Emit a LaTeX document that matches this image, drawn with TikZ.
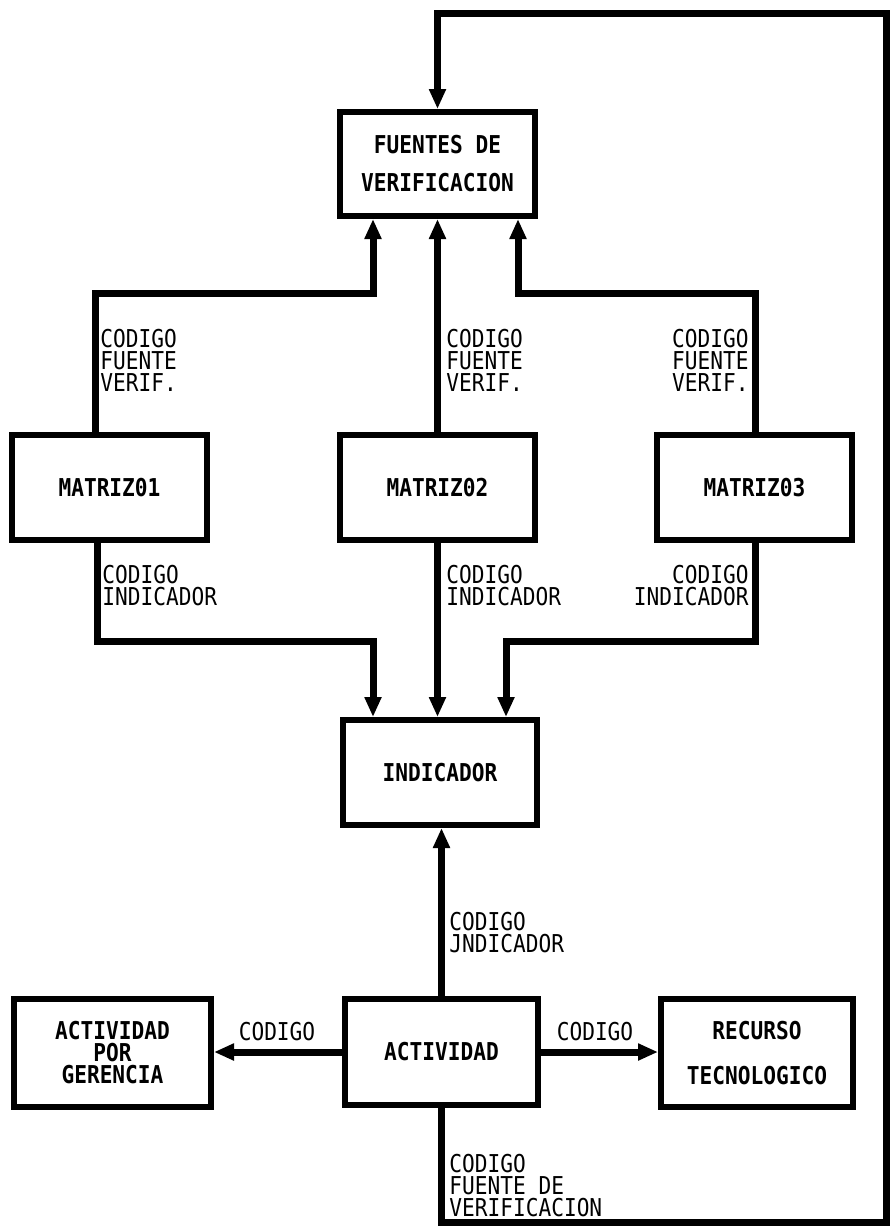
\documentclass[tikz,border=0pt]{standalone}
\usepackage{fontspec}
\newfontfamily\labfont[FakeStretch=0.86]{DejaVu Sans Mono}
\usetikzlibrary{arrows.meta}
\begin{document}
\begin{tikzpicture}[x=0.5pt,y=-0.5pt,
  boxnode/.style={draw,line width=3pt,inner sep=0pt,align=center,
    font=\labfont\bfseries\fontsize{12.3}{11}\selectfont},
  lab/.style={inner sep=0pt,align=left,font=\labfont\fontsize{12.3}{11}\selectfont},
  labr/.style={inner sep=0pt,align=right,font=\labfont\fontsize{12.3}{11}\selectfont},
  conn/.style={line width=3.5pt,line join=miter,-{Triangle[length=10pt,width=8pt]}},
  plain/.style={line width=3.5pt,line join=miter}]
\useasboundingbox (0,0) rectangle (893,1228);
% boxes
\node[boxnode,minimum width=97.5pt,minimum height=52pt] (fv) at (437.5,164) {FUENTES DE\\[8pt]VERIFICACION};
\node[boxnode,minimum width=97.5pt,minimum height=52.5pt] (m1) at (109.5,487.5) {MATRIZ01};
\node[boxnode,minimum width=97.5pt,minimum height=52.5pt] (m2) at (437.5,487.5) {MATRIZ02};
\node[boxnode,minimum width=97.5pt,minimum height=52.5pt] (m3) at (754.5,487.5) {MATRIZ03};
\node[boxnode,minimum width=97pt,minimum height=52.5pt] (ind) at (440,772.5) {INDICADOR};
\node[boxnode,minimum width=96.5pt,minimum height=53pt] (act) at (441.5,1052) {ACTIVIDAD};
\node[boxnode,minimum width=98.5pt,minimum height=54pt] (ger) at (112.5,1053) {ACTIVIDAD\\POR\\GERENCIA};
\node[boxnode,minimum width=96pt,minimum height=54pt] (rec) at (757,1053) {RECURSO\\[11.5pt]TECNOLOGICO};
% helper coordinates
\coordinate (ta) at (95,293);
\coordinate (tb) at (373,293);
\coordinate (tc) at (755,293);
\coordinate (td) at (518,293);
\coordinate (ba) at (97,641);
\coordinate (bb) at (373,641);
\coordinate (bc) at (755,641);
\coordinate (bd) at (506,641);
\coordinate (la) at (441.5,1222);
\coordinate (lb) at (886,1222);
\coordinate (lc) at (886,13);
\coordinate (ld) at (437.5,13);
% upper connectors
\draw[conn] (m1.north -| ta) -- (ta) -- (tb) -- (fv.south -| tb);
\draw[conn] (m2.north) -- (fv.south);
\draw[conn] (m3.north -| tc) -- (tc) -- (td) -- (fv.south -| td);
% lower connectors
\draw[conn] (m1.south -| ba) -- (ba) -- (bb) -- (ind.north -| bb);
\draw[conn] (m2.south) -- (ind.north -| m2.south);
\draw[conn] (m3.south -| bc) -- (bc) -- (bd) -- (ind.north -| bd);
% actividad connectors
\draw[conn] (act.north) -- (ind.south -| act.north);
\draw[conn] (act.west) -- (ger.east |- act.west);
\draw[conn] (act.east) -- (rec.west |- act.east);
\draw[conn] (act.south) -- (la) -- (lb) -- (lc) -- (ld) -- (fv.north);
% labels
\node[lab,anchor=west] (l1) at (100,360) {CODIGO\\FUENTE\\VERIF.};
\node[lab,anchor=west] (l2) at (446,360) {CODIGO\\FUENTE\\VERIF.};
\node[labr,anchor=east] (l3) at (749,360) {CODIGO\\FUENTE\\VERIF.};
\node[lab,anchor=west] (l4) at (102,586) {CODIGO\\INDICADOR};
\node[lab,anchor=west] (l5) at (446,586) {CODIGO\\INDICADOR};
\node[labr,anchor=east] (l6) at (749,586) {CODIGO\\INDICADOR};
\node[lab,anchor=west] (l7) at (449,933) {CODIGO\\JNDICADOR};
\node[lab] (l8) at (277,1032) {CODIGO};
\node[lab] (l9) at (595,1032) {CODIGO};
\node[lab,anchor=west] (l10) at (449,1186) {CODIGO\\FUENTE DE\\VERIFICACION};
\end{tikzpicture}
\end{document}
